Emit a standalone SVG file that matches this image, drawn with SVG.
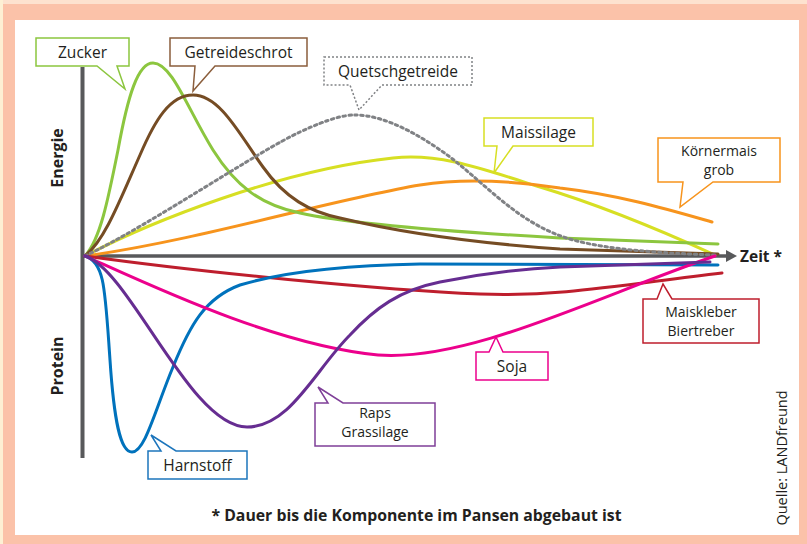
<svg xmlns="http://www.w3.org/2000/svg" width="807" height="544" viewBox="0 0 807 544">
<style>
text{font-family:"Open Sans","Noto Sans","Liberation Sans",sans-serif;fill:#231f20}
.lbl{font-size:15.5px;text-anchor:middle}
.lbl2{font-size:14px;text-anchor:middle}
.bold{font-weight:bold}
.crv{fill:none;stroke-width:3;stroke-linecap:round;stroke-linejoin:round}
.co{fill:#fff;stroke-width:1.5;stroke-linejoin:miter}
</style>
<rect x="0" y="0" width="807" height="544" fill="#fbc2a9"/>
<rect x="0" y="0" width="807" height="4" fill="#fde2cf"/>
<rect x="0" y="0" width="3" height="544" fill="#fdf0d4"/>
<rect x="15" y="20" width="784" height="515" fill="#ffffff"/>

<g id="axes">
<line x1="82.5" y1="67" x2="82.5" y2="458" stroke="#58595b" stroke-width="4"/>
<line x1="82" y1="256" x2="728" y2="256" stroke="#58595b" stroke-width="3.5"/>
<polygon points="726,250 737,256 726,262" fill="#58595b"/>
<text class="bold" font-size="16" transform="translate(63,158) rotate(-90)" text-anchor="middle">Energie</text>
<text class="bold" font-size="16" transform="translate(63,366) rotate(-90)" text-anchor="middle">Protein</text>
<text class="bold" font-size="15.5" x="740" y="262">Zeit *</text>
</g>

<g id="curves">
<path class="crv" stroke="#d7df23" d="M85,256 C150,222 280,170 393,158 C440,153 480,168 540,187 C600,205 660,230 715,255"/>
<path class="crv" stroke="#f7941d" d="M85,256 C200,240 330,200 420,185 C470,177 520,182 560,188 C620,195 670,210 712,222"/>
<path class="crv" stroke="#8cc63f" d="M85,256 C100,240 108,200 118,150 C128,95 138,63 153,63 C172,63 188,110 213,150 C235,185 260,205 300,213 C340,222 420,230 560,238 L718,244"/>
<path class="crv" stroke="#754c24" d="M85,256 C105,240 120,200 140,155 C155,120 170,95 193,95 C220,95 240,135 263,167 C285,198 310,212 340,218 C390,230 460,242 560,249 L718,254"/>
<path class="crv" stroke="#808285" stroke-linecap="butt" stroke-dasharray="2.5 3.5" d="M85,256 C150,225 260,150 300,132 C330,118 345,115 355,115 C385,115 420,135 450,157 C490,188 520,225 573,240 C610,250 660,253 715,255"/>
<path class="crv" stroke="#be1e2d" d="M85,256 C200,272 380,290 480,294 C560,297 620,285 722,273"/>
<path class="crv" stroke="#0072bc" d="M85,256 C105,262 105,290 110,360 C114,420 120,452 132,452 C145,452 155,410 173,367 C190,325 205,298 240,285 C290,270 360,265 420,264 L718,265"/>
<path class="crv" stroke="#ec008c" d="M85,256 C150,285 275,345 378,355 C470,362 600,295 715,256"/>
<path class="crv" stroke="#662d91" d="M85,256 C130,270 190,427 247,427 C290,427 315,370 350,335 C375,308 400,290 440,282 C480,274 520,269 560,267 L710,262"/>
</g>

<g id="zucker">
<path class="co" stroke="#8cc63f" d="M36,38 H129 V66 H117 L125,89 L97,66 H36 Z"/>
<text class="lbl" x="82.5" y="57.5">Zucker</text>
</g>
<g id="getreideschrot">
<path class="co" stroke="#8b5e3c" d="M170,38 H307 V66 H215 L193,91 L195,66 H170 Z"/>
<text class="lbl" x="238.5" y="57.5">Getreideschrot</text>
</g>
<g id="quetschgetreide">
<path class="co" stroke="#808285" stroke-width="1.3" stroke-dasharray="2 2" d="M324,57 H472 V85 H382 L359,110 L350,85 H324 Z"/>
<text class="lbl" x="398" y="77">Quetschgetreide</text>
</g>
<g id="maissilage">
<path class="co" stroke="#d7df23" d="M484,118 H593 V146 H513 L494,173 L497,146 H484 Z"/>
<text class="lbl" x="538.5" y="137.5">Maissilage</text>
</g>
<g id="koernermais">
<path class="co" stroke="#f7941d" d="M658,138 H780 V182 H713 L680,207 L683,182 H658 Z"/>
<text class="lbl2" x="719" y="156">Körnermais</text>
<text class="lbl2" x="719" y="175">grob</text>
</g>
<g id="maiskleber">
<path class="co" stroke="#be1e2d" d="M643,299 H657 L663,284 L672,299 H759 V343 H643 Z"/>
<text class="lbl2" x="701" y="317">Maiskleber</text>
<text class="lbl2" x="701" y="336">Biertreber</text>
</g>
<g id="soja">
<path class="co" stroke="#ec008c" d="M476,352 H489 L496,337 L503,352 H548 V380 H476 Z"/>
<text class="lbl" x="512" y="372">Soja</text>
</g>
<g id="raps">
<path class="co" stroke="#7f3f98" d="M315,403 H328 L318,387 L343,403 H435 V446 H315 Z"/>
<text class="lbl2" x="375" y="418">Raps</text>
<text class="lbl2" x="375" y="437">Grassilage</text>
</g>
<g id="harnstoff">
<path class="co" stroke="#1c75bc" d="M148,451 H161 L151,435 L176,451 H247 V479 H148 Z"/>
<text class="lbl" x="197.5" y="471">Harnstoff</text>
</g>

<text class="bold" font-size="15.8" x="416.5" y="521" text-anchor="middle">* Dauer bis die Komponente im Pansen abgebaut ist</text>
<text font-size="14.5" transform="translate(787,458) rotate(-90)" text-anchor="middle">Quelle: LANDfreund</text>
</svg>
